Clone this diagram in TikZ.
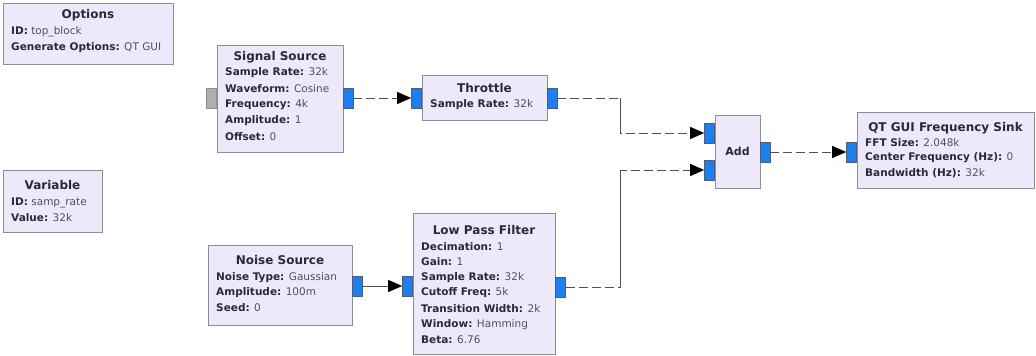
\documentclass[tikz,border=0pt]{standalone}
\usepackage{fontspec}
\setmainfont{DejaVu Sans}
\usetikzlibrary{arrows.meta}
\definecolor{blkfill}{HTML}{EDE9FB}
\definecolor{blkline}{HTML}{8E8E8E}
\definecolor{portblue}{HTML}{1B80EE}
\definecolor{portline}{HTML}{4A5E80}
\definecolor{portgrey}{HTML}{AFAFAF}
\definecolor{keytxt}{HTML}{2A2A34}
\definecolor{valtxt}{HTML}{50505A}
\definecolor{wire}{HTML}{505050}
\newcommand{\prm}[2]{{\bfseries\color{keytxt}#1:} {\color{valtxt}#2}}
\tikzset{
  blk/.style={draw=blkline, line width=1.4pt, fill=blkfill, inner sep=0pt, anchor=north west},
  port/.style={draw=portline, line width=0.6pt, fill=portblue, inner sep=0pt, minimum width=10pt, minimum height=20pt},
  inport/.style={port, fill=portgrey, draw=blkline},
  ttl/.style={font=\fontsize{12}{14}\selectfont\bfseries, text=keytxt, inner sep=0pt},
  par/.style={font=\fontsize{10.5}{12}\selectfont, anchor=west, inner sep=0pt},
  tip/.style={-{Triangle[length=14pt,width=12pt,color=black]}},
  flow/.style={draw=wire, line width=1pt, dash pattern=on 9pt off 4pt, tip},
  flowsolid/.style={draw=wire, line width=1pt, tip},
  riser/.style={draw=wire, line width=1pt}
}
\begin{document}
\begin{tikzpicture}[x=1pt,y=-1pt]
\useasboundingbox[fill=white] (0,0) rectangle (1036,356);

% Options block
\node[blk, minimum width=170pt, minimum height=61pt] (opts) at (3,3) {};
\node[ttl] (optsT) at (88,15) {Options};
\node[par] (optsA) at (11,32) {\prm{ID}{top\_block}};
\node[par] (optsB) at (11,48) {\prm{Generate Options}{QT GUI}};

% Variable block
\node[blk, minimum width=99pt, minimum height=62pt] (var) at (3,170) {};
\node[ttl] (varT) at (52.5,185) {Variable};
\node[par] (varA) at (11,203) {\prm{ID}{samp\_rate}};
\node[par] (varB) at (11,218) {\prm{Value}{32k}};

% Signal Source block
\node[blk, minimum width=126pt, minimum height=107pt] (ss) at (217,45) {};
\node[ttl] (ssT) at (280,57) {Signal Source};
\node[par] (ssA) at (225,73) {\prm{Sample Rate}{32k}};
\node[par] (ssB) at (225,89) {\prm{Waveform}{Cosine}};
\node[par] (ssC) at (225,105) {\prm{Frequency}{4k}};
\node[par] (ssD) at (225,121) {\prm{Amplitude}{1}};
\node[par] (ssE) at (225,137) {\prm{Offset}{0}};
\node[inport] (ssin) at (211.5,98) {};
\node[port] (ssout) at (348,98) {};

% Throttle block
\node[blk, minimum width=125pt, minimum height=45pt] (thr) at (422,75) {};
\node[ttl] (thrT) at (484.5,88) {Throttle};
\node[par] (thrA) at (430,105) {\prm{Sample Rate}{32k}};
\node[port] (thrin) at (416.5,98) {};
\node[port] (throut) at (552,98) {};

% Noise Source block
\node[blk, minimum width=144pt, minimum height=80pt] (ns) at (208,245) {};
\node[ttl] (nsT) at (280,260) {Noise Source};
\node[par] (nsA) at (216,278) {\prm{Noise Type}{Gaussian}};
\node[par] (nsB) at (216,293) {\prm{Amplitude}{100m}};
\node[par] (nsC) at (216,308) {\prm{Seed}{0}};
\node[port] (nsout) at (357,286) {};

% Low Pass Filter block
\node[blk, minimum width=142pt, minimum height=141pt] (lpf) at (413,213) {};
\node[ttl] (lpfT) at (484,230) {Low Pass Filter};
\node[par] (lpfA) at (421,247) {\prm{Decimation}{1}};
\node[par] (lpfB) at (421,262) {\prm{Gain}{1}};
\node[par] (lpfC) at (421,278) {\prm{Sample Rate}{32k}};
\node[par] (lpfD) at (421,293) {\prm{Cutoff Freq}{5k}};
\node[par] (lpfE) at (421,309) {\prm{Transition Width}{2k}};
\node[par] (lpfF) at (421,325) {\prm{Window}{Hamming}};
\node[par] (lpfG) at (421,340) {\prm{Beta}{6.76}};
\node[port] (lpfin) at (407.5,286) {};
\node[port] (lpfout) at (560.5,287) {};

% Add block
\node[blk, minimum width=45pt, minimum height=73pt] (add) at (715,115) {};
\node[ttl, font=\fontsize{11}{13}\selectfont\bfseries] (addT) at (737.5,151) {Add};
\node[port] (addin1) at (709.5,133) {};
\node[port] (addin2) at (709.5,170) {};
\node[port] (addout) at (765,152) {};

% QT GUI Frequency Sink block
\node[blk, minimum width=177pt, minimum height=76pt] (sink) at (857,112) {};
\node[ttl] (sinkT) at (945.5,128) {QT GUI Frequency Sink};
\node[par] (sinkA) at (865,143) {\prm{FFT Size}{2.048k}};
\node[par] (sinkB) at (865,158) {\prm{Center Frequency (Hz)}{0}};
\node[par] (sinkC) at (865,173) {\prm{Bandwidth (Hz)}{32k}};
\node[port] (sinkin) at (851.5,152) {};

% Bend column for the two Add inputs
\coordinate (bend) at (620,0);

% Connections
\draw[flow] (ssout.east) -- (thrin.west);
\draw[flow] (throut.east) -| (bend |- addin1.west) -- (addin1.west);
\draw[riser] (bend |- throut.east) -- (bend |- addin1.west);
\draw[flowsolid] (nsout.east) -- (lpfin.west);
\draw[flow] (lpfout.east) -| (bend |- addin2.west) -- (addin2.west);
\draw[riser] (bend |- lpfout.east) -- (bend |- addin2.west);
\draw[flow] (addout.east) -- (sinkin.west);
\end{tikzpicture}
\end{document}
